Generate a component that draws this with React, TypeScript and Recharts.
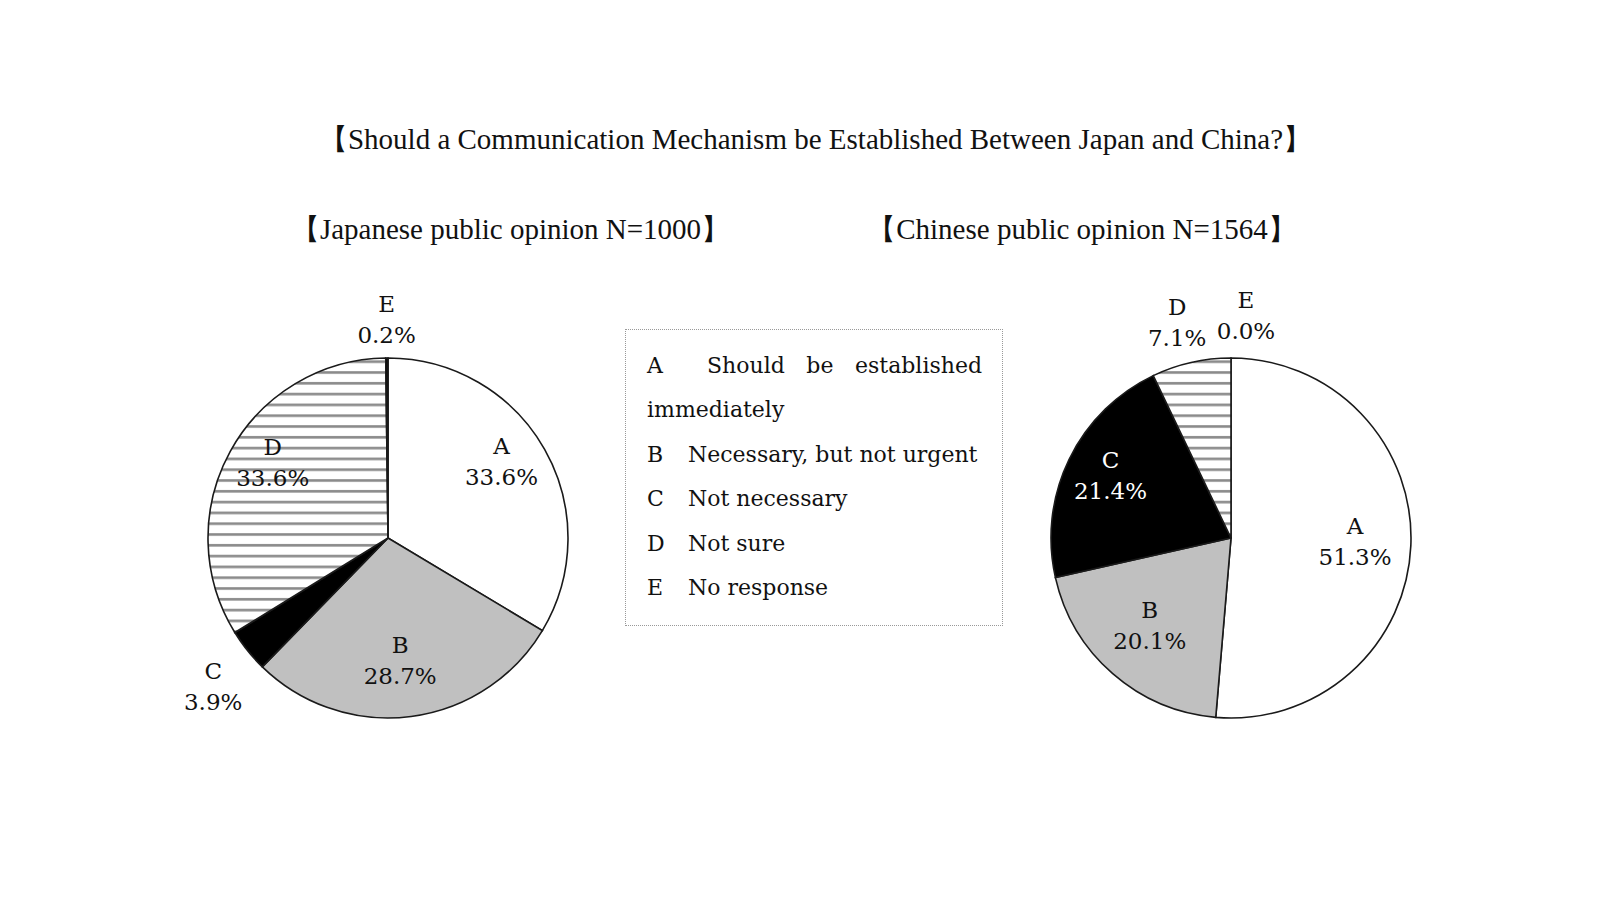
import React from 'react';
import { PieChart, Pie, Cell } from 'recharts';

const categories = ['A', 'B', 'C', 'D', 'E'];
const descriptions = [
  'Should be established immediately',
  'Necessary, but not urgent',
  'Not necessary',
  'Not sure',
  'No response',
];
const japanValues = [33.6, 28.7, 3.9, 33.6, 0.2];
const chinaValues = [51.3, 20.1, 21.4, 7.1, 0.0];

const chartTitle = '【Should a Communication Mechanism be Established Between Japan and China?】';
const japanTitle = '【Japanese public opinion N=1000】';
const chinaTitle = '【Chinese public opinion N=1564】';

const sliceFills = ['#ffffff', '#c0c0c0', '#000000', 'url(#hatch)', '#000000'];

// where each label sits: fraction of outer radius along the mid angle, plus a small nudge
const japanLabelPos = [
  { r: 0.75, dx: -4, dy: -8 },
  { r: 0.7, dx: -4, dy: 0 },
  { r: 1.28, dx: 5, dy: 6 },
  { r: 0.75, dx: 3, dy: -8 },
  { r: 1.2, dx: 0, dy: -1 },
];
const chinaLabelPos = [
  { r: 0.69, dx: 0, dy: 0 },
  { r: 0.67, dx: -2, dy: -1 },
  { r: 0.75, dx: 1, dy: -2 },
  { r: 1.2, dx: -6, dy: -3 },
  { r: 1.22, dx: 15, dy: -1 },
];

const japanData = categories.map((name, i) => ({ name, value: japanValues[i] }));
const chinaData = categories.map((name, i) => ({ name, value: chinaValues[i] }));

const RADIAN = Math.PI / 180;
const serif = '"DejaVu Serif", serif';

const makeLabel = (pos: { r: number; dx: number; dy: number }[]) => (props: any) => {
  const { cx, cy, midAngle, outerRadius, index, value } = props;
  const p = pos[index];
  const r = outerRadius * p.r;
  const x = cx + r * Math.cos(-midAngle * RADIAN) + p.dx;
  const y = cy + r * Math.sin(-midAngle * RADIAN) + p.dy;
  const white = p.r < 1 && sliceFills[index] === '#000000';
  return (
    <text x={x} y={y} textAnchor="middle" fill={white ? '#fff' : '#111'} fontFamily={serif} fontSize={23}>
      <tspan x={x} dy={-9.5}>{categories[index]}</tspan>
      <tspan x={x} dy={31}>{Number(value).toFixed(1)}%</tspan>
    </text>
  );
};

const rowTop = (i: number) => 14 + i * 44.4;

// the first description wraps: all but its last word go on the justified first line
const firstWords = descriptions[0].split(' ');
const firstLine = firstWords.slice(0, -1).join(' ');
const firstWrap = firstWords[firstWords.length - 1];

export default function App() {
  return (
    <div style={{ position: 'absolute', left: 0, top: 0, width: 1600, height: 900, background: '#fff' }}>
      <PieChart width={1600} height={900} margin={{ top: 0, right: 0, bottom: 0, left: 0 }}>
        <Pie
          data={japanData}
          dataKey="value"
          nameKey="name"
          cx={388}
          cy={538}
          outerRadius={180}
          startAngle={90}
          endAngle={-270}
          stroke="#1a1a1a"
          strokeWidth={1.6}
          label={makeLabel(japanLabelPos)}
          labelLine={false}
          isAnimationActive={false}
        >
          {japanData.map((d, i) => (
            <Cell key={d.name} fill={sliceFills[i]} />
          ))}
        </Pie>
        <Pie
          data={chinaData}
          dataKey="value"
          nameKey="name"
          cx={1231}
          cy={538}
          outerRadius={180}
          startAngle={90}
          endAngle={-270}
          stroke="#1a1a1a"
          strokeWidth={1.6}
          label={makeLabel(chinaLabelPos)}
          labelLine={false}
          isAnimationActive={false}
        >
          {chinaData.map((d, i) => (
            <Cell key={d.name} fill={sliceFills[i]} />
          ))}
        </Pie>
      </PieChart>

      <svg width={1600} height={900} style={{ position: 'absolute', left: 0, top: 0, pointerEvents: 'none' }}>
        <defs>
          <pattern id="hatch" patternUnits="userSpaceOnUse" width={10} height={10.8}>
            <rect width={10} height={10.8} fill="#fff" />
            <rect y={4} width={10} height={2.6} fill="#8a8a8a" />
          </pattern>
        </defs>
        <g fontFamily='"Liberation Serif", serif' fill="#111" textAnchor="middle" fontSize={29}>
          <text x={815.5} y={148.5}>{chartTitle}</text>
          <text x={510.5} y={238.5}>{japanTitle}</text>
          <text x={1082} y={238.5}>{chinaTitle}</text>
        </g>
      </svg>

      <div
        style={{
          position: 'absolute',
          left: 625,
          top: 329,
          width: 378,
          height: 297,
          border: '1px dotted #999',
          boxSizing: 'border-box',
          fontFamily: serif,
          fontSize: 22,
          color: '#111',
          lineHeight: '44.4px',
        }}
      >
        <div style={{ position: 'absolute', left: 21, top: rowTop(0) }}>{categories[0]}</div>
        <div style={{ position: 'absolute', left: 81, top: rowTop(0), width: 275, textAlign: 'justify', textAlignLast: 'justify' }}>
          {firstLine}
        </div>
        <div style={{ position: 'absolute', left: 21, top: rowTop(1) }}>{firstWrap}</div>
        {descriptions.slice(1).map((d, i) => (
          <React.Fragment key={d}>
            <div style={{ position: 'absolute', left: 21, top: rowTop(i + 2) }}>{categories[i + 1]}</div>
            <div style={{ position: 'absolute', left: 62, top: rowTop(i + 2), whiteSpace: 'nowrap' }}>{d}</div>
          </React.Fragment>
        ))}
      </div>
    </div>
  );
}
